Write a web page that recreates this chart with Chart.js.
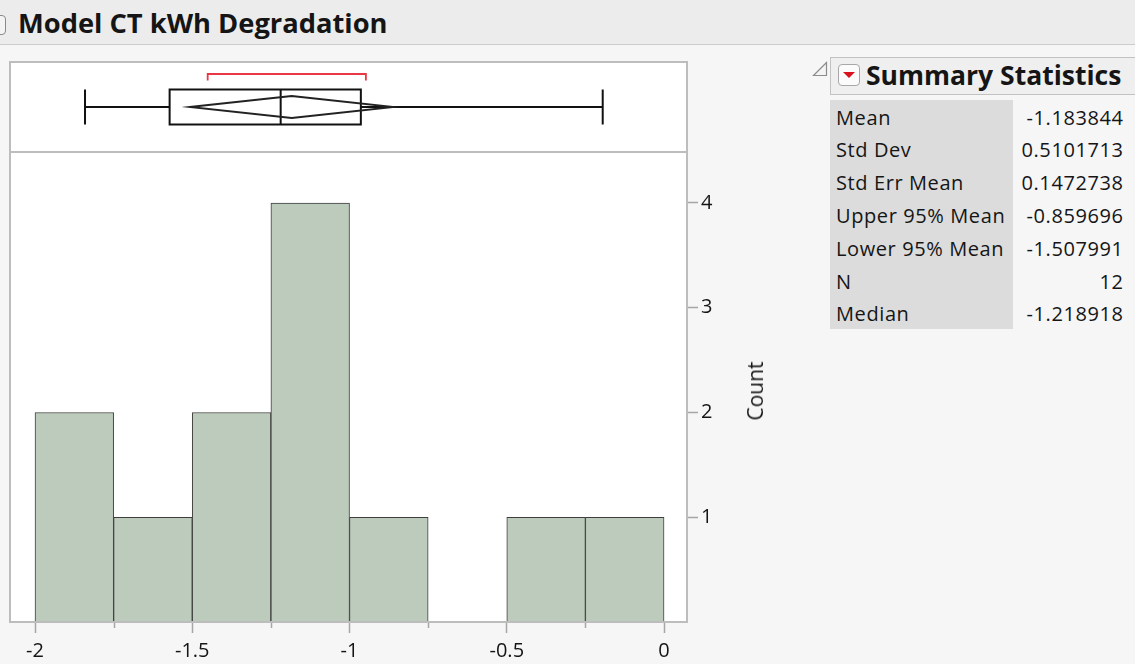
<!DOCTYPE html>
<html>
<head>
<meta charset="utf-8">
<script src="https://cdn.jsdelivr.net/npm/chart.js@4.4.0/dist/chart.umd.min.js"></script>
<style>
  html, body { margin: 0; padding: 0; width: 1135px; height: 664px; overflow: hidden;
    background: #f6f6f6; font-family: "Open Sans", "Noto Sans", sans-serif; color: #151515; }
  #titlebar { position: absolute; left: 0; top: 0; width: 1135px; height: 44px;
    background: #ececec; border-bottom: 1px solid #cdcdcd; }
  #titleicon { position: absolute; left: -8px; top: 15px; width: 12px; height: 18px;
    border: 1px solid #8a8a8a; border-radius: 4px; background: #f4f4f4; }
  #title { position: absolute; left: 18px; top: 4px; font-weight: bold; font-size: 27.3px; white-space: nowrap; }
  #chartwrap { position: absolute; left: 0; top: 50px; width: 800px; height: 614px; }
  #countlabel { position: absolute; left: 755px; top: 391px; font-size: 21px;
    transform: translate(-50%, -50%) rotate(-90deg); white-space: nowrap; }
  #disclose { position: absolute; left: 811px; top: 60px; }
  #sshead { position: absolute; left: 830px; top: 57px; width: 320px; height: 36px;
    background: #efefef; border: 1px solid #c2c2c2; }
  #redbtn { position: absolute; left: 838px; top: 64px; width: 20px; height: 20px;
    border: 1px solid #a8a8a8; border-radius: 4px; background: #fbfbfb; }
  #sstitle { position: absolute; left: 866px; top: 57px; font-weight: bold; font-size: 26.5px; white-space: nowrap; }
  #labelcol { position: absolute; left: 830px; top: 100px; width: 183px; height: 229px; background: #dcdcdc; }
  .srow { position: absolute; left: 836px; width: 287px; height: 33px; font-size: 20px; line-height: 33px; letter-spacing: 0.6px; }
  .srow .lab { position: absolute; left: 0; white-space: nowrap; }
  .srow .val { position: absolute; right: -0.6px; white-space: nowrap; }
</style>
</head>
<body>
<div id="titlebar"><div id="titleicon"></div><div id="title">Model CT kWh Degradation</div></div>
<div id="chartwrap"><canvas id="hist"></canvas></div>
<div id="countlabel">Count</div>

<svg id="disclose" width="18" height="18" viewBox="0 0 18 18">
  <path d="M15.5 2.5 L15.5 15.5 L2.5 15.5 Z" fill="#f4f4f4" stroke="#8c8c8c" stroke-width="1.2"/>
</svg>
<div id="sshead"></div>
<div id="redbtn"><svg width="20" height="20" viewBox="0 0 20 20"><path d="M4 7 L16 7 L10 13 Z" fill="#d8121e"/></svg></div>
<div id="sstitle">Summary Statistics</div>
<div id="labelcol"></div>
<div id="stats"></div>

<script>
// Histogram bins (width 0.25) and their counts
const binCenters = [-1.875, -1.625, -1.375, -1.125, -0.875, -0.625, -0.375, -0.125];
const binCounts  = [2, 1, 2, 4, 1, 0, 1, 1];

// Axis tick values
const xTickValues = [-2, -1.75, -1.5, -1.25, -1, -0.75, -0.5, -0.25, 0];
const xLabelValues = [-2, -1.5, -1, -0.5, 0];
const countTicks = [1, 2, 3, 4];

// Outlier box plot: lower whisker, Q1, median, Q3, upper whisker
const boxPlotValues = [-1.841, -1.572, -1.218918, -0.964, -0.195];
// Mean diamond: lower 95%, mean, upper 95%
const meanDiamond = [-1.507991, -1.183844, -0.859696];
// Shortest half bracket
const shortestHalf = [-1.451, -0.948];

// Summary statistics table
const statLabels = ["Mean", "Std Dev", "Std Err Mean", "Upper 95% Mean", "Lower 95% Mean", "N", "Median"];
const statValues = ["-1.183844", "0.5101713", "0.1472738", "-0.859696", "-1.507991", "12", "-1.218918"];

// Count value where the histogram panel ends and the box plot panel begins
const histPanelTop = 4.487;

const statsEl = document.getElementById('stats');
statLabels.forEach((lab, i) => {
  const row = document.createElement('div');
  row.className = 'srow';
  row.style.top = (100.5 + i * 32.8) + 'px';
  row.innerHTML = '<span class="lab">' + lab + '</span><span class="val">' + statValues[i] + '</span>';
  statsEl.appendChild(row);
});

const FONT = '"Open Sans", "Noto Sans", sans-serif';

// keep the plot area fixed regardless of tick label sizes
const noScalePadding = s => { s.paddingTop = 0; s.paddingBottom = 0; s.paddingLeft = 0; s.paddingRight = 0; };

const framePlugin = {
  id: 'frame',
  beforeDraw(chart) {
    const a = chart.chartArea, c = chart.ctx;
    c.save();
    c.fillStyle = '#ffffff';
    c.fillRect(a.left, a.top, a.right - a.left, a.bottom - a.top);
    c.restore();
  },
  afterDraw(chart) {
    const a = chart.chartArea, c = chart.ctx;
    const x = chart.scales.x, y = chart.scales.y;
    c.save();
    // minor ticks on the value axis
    c.strokeStyle = '#a6a6a6';
    c.lineWidth = 1.5;
    xTickValues.forEach(v => {
      if (xLabelValues.includes(v)) return;
      const px = Math.round(x.getPixelForValue(v)) + 0.5;
      c.beginPath(); c.moveTo(px, a.bottom); c.lineTo(px, a.bottom + 6); c.stroke();
    });
    // frame and panel divider
    c.strokeStyle = '#bdbdbd';
    c.lineWidth = 2;
    c.strokeRect(a.left, a.top, a.right - a.left, a.bottom - a.top);
    const dy = Math.round(y.getPixelForValue(histPanelTop));
    c.beginPath(); c.moveTo(a.left, dy); c.lineTo(a.right, dy); c.stroke();

    // box plot panel
    const top = a.top;
    const yc = top + 45, boxTop = top + 27.5, boxBot = top + 62.5;
    const P = v => x.getPixelForValue(v);
    const [wLo, q1, med, q3, wHi] = boxPlotValues;
    c.strokeStyle = '#111111';
    c.lineWidth = 2;
    c.beginPath();
    c.moveTo(P(wLo), yc); c.lineTo(P(q1), yc);
    c.moveTo(P(q3), yc); c.lineTo(P(wHi), yc);
    c.moveTo(P(wLo), boxTop); c.lineTo(P(wLo), boxBot);
    c.moveTo(P(wHi), boxTop); c.lineTo(P(wHi), boxBot);
    c.moveTo(P(med), boxTop); c.lineTo(P(med), boxBot);
    c.stroke();
    c.strokeRect(P(q1), boxTop, P(q3) - P(q1), boxBot - boxTop);
    // mean diamond
    const [lo, mean, hi] = meanDiamond;
    c.lineWidth = 1.8;
    c.strokeStyle = '#222222';
    c.beginPath();
    c.moveTo(P(lo), yc); c.lineTo(P(mean), yc - 11);
    c.lineTo(P(hi), yc); c.lineTo(P(mean), yc + 11); c.closePath();
    c.stroke();
    // shortest half bracket
    c.strokeStyle = '#ea3645';
    c.lineWidth = 1.8;
    const by = top + 12;
    c.beginPath();
    c.moveTo(P(shortestHalf[0]), by + 6.5); c.lineTo(P(shortestHalf[0]), by);
    c.lineTo(P(shortestHalf[1]), by); c.lineTo(P(shortestHalf[1]), by + 6.5);
    c.stroke();
    c.restore();
  }
};

new Chart(document.getElementById('hist'), {
  type: 'bar',
  data: {
    datasets: [{
      data: binCenters.map((v, i) => ({ x: v, y: binCounts[i] })),
      backgroundColor: '#bccbbc',
      borderColor: '#3e3e3e',
      borderWidth: ctx => (ctx.raw && ctx.raw.y > 0 ? 1 : 0),
      borderSkipped: 'start',
      barPercentage: 1,
      categoryPercentage: 1
    }]
  },
  options: {
    responsive: true,
    maintainAspectRatio: false,
    animation: false,
    events: [],
    layout: { padding: { left: 10, top: 12, right: 0, bottom: 0 } },
    plugins: { legend: { display: false }, tooltip: { enabled: false } },
    scales: {
      x: {
        type: 'linear', min: -2.0795, max: 0.073, offset: false,
        afterBuildTicks: s => { s.ticks = xTickValues.map(v => ({ value: v })); },
        afterFit: s => { s.height = 42; noScalePadding(s); },
        grid: { drawOnChartArea: false, drawTicks: true, tickLength: 11, offset: false,
          tickColor: ctx => (ctx.tick && xLabelValues.includes(ctx.tick.value) ? '#a6a6a6' : 'rgba(0,0,0,0)'),
          tickWidth: 1.5 },
        border: { display: false },
        ticks: { autoSkip: false, maxRotation: 0, padding: 6, color: '#151515',
          font: { size: 20, family: FONT },
          callback: v => (xLabelValues.includes(v) ? String(v) : '') }
      },
      y: {
        position: 'right', min: 0, max: 5.346,
        afterBuildTicks: s => { s.ticks = countTicks.map(v => ({ value: v })); },
        afterFit: s => { s.width = 113; noScalePadding(s); },
        grid: { drawOnChartArea: false, drawTicks: true, tickLength: 11, tickColor: '#a6a6a6', tickWidth: 1.5 },
        border: { display: false },
        ticks: { padding: 3, color: '#151515', font: { size: 20, family: FONT } }
      }
    }
  },
  plugins: [framePlugin]
});
</script>
</body>
</html>
